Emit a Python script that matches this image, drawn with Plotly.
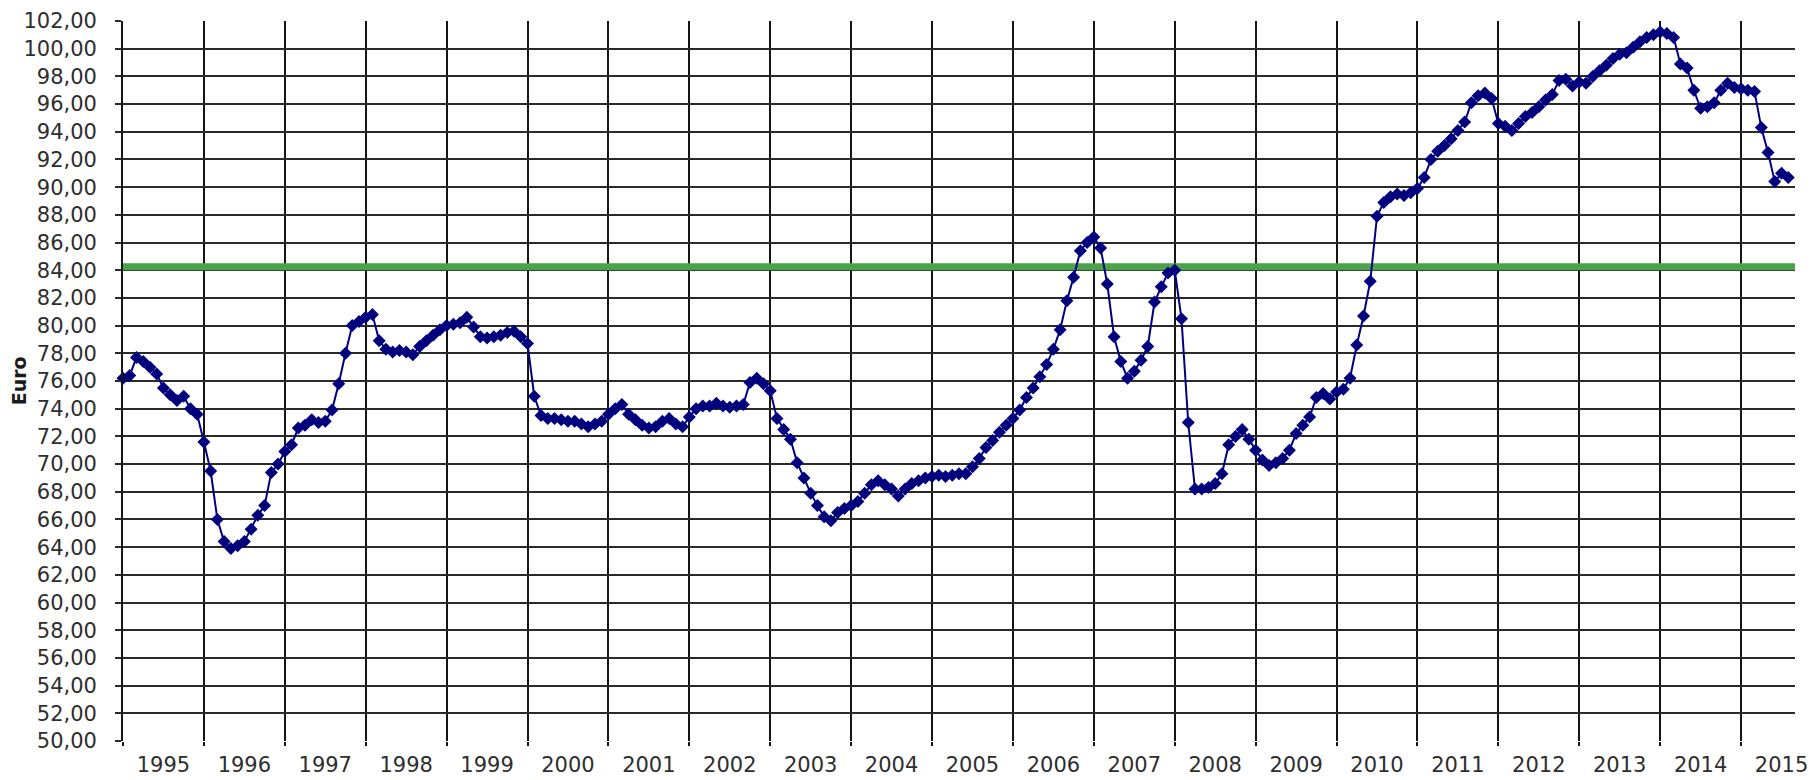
import plotly.graph_objects as go

# ---- data (monthly values) ----
years = list(range(1995, 2016))
year_labels = [str(y) for y in years]
y_ticks = list(range(50, 103, 2))
threshold = 84.25

v1995 = [76.2, 76.4, 77.7, 77.4, 77.0, 76.5, 75.5, 75.0, 74.6, 74.9, 74.0, 73.6]
v1996 = [71.6, 69.5, 66.0, 64.4, 63.9, 64.1, 64.4, 65.3, 66.3, 67.0, 69.4, 70.0]
v1997 = [70.9, 71.4, 72.6, 72.8, 73.2, 73.0, 73.1, 73.9, 75.8, 78.0, 80.0, 80.3]
v1998 = [80.6, 80.8, 78.9, 78.3, 78.1, 78.2, 78.1, 77.9, 78.5, 78.9, 79.3, 79.7]
v1999 = [80.0, 80.1, 80.2, 80.6, 79.9, 79.2, 79.1, 79.2, 79.3, 79.5, 79.6, 79.2]
v2000 = [78.7, 74.9, 73.5, 73.3, 73.3, 73.2, 73.1, 73.1, 72.9, 72.7, 72.9, 73.1]
v2001 = [73.6, 74.0, 74.3, 73.6, 73.2, 72.8, 72.6, 72.7, 73.1, 73.3, 72.9, 72.7]
v2002 = [73.4, 74.0, 74.2, 74.2, 74.4, 74.2, 74.1, 74.2, 74.3, 75.9, 76.2, 75.8]
v2003 = [75.3, 73.3, 72.5, 71.8, 70.1, 69.0, 67.9, 67.0, 66.2, 65.9, 66.5, 66.8]
v2004 = [67.0, 67.3, 67.9, 68.5, 68.8, 68.5, 68.2, 67.7, 68.2, 68.6, 68.8, 69.0]
v2005 = [69.1, 69.2, 69.1, 69.2, 69.3, 69.3, 69.8, 70.4, 71.2, 71.7, 72.3, 72.8]
v2006 = [73.3, 73.9, 74.8, 75.5, 76.3, 77.2, 78.3, 79.7, 81.8, 83.5, 85.4, 86.0]
v2007 = [86.4, 85.6, 83.0, 79.2, 77.4, 76.2, 76.7, 77.5, 78.5, 81.7, 82.8, 83.8]
v2008 = [84.0, 80.5, 73.0, 68.2, 68.2, 68.3, 68.6, 69.3, 71.4, 72.0, 72.5, 71.8]
v2009 = [71.0, 70.3, 69.9, 70.1, 70.4, 71.0, 72.2, 72.8, 73.4, 74.8, 75.1, 74.7]
v2010 = [75.2, 75.4, 76.2, 78.6, 80.7, 83.2, 87.9, 88.9, 89.3, 89.5, 89.4, 89.6]
v2011 = [89.9, 90.7, 92.0, 92.6, 93.0, 93.5, 94.1, 94.7, 96.1, 96.6, 96.8, 96.4]
v2012 = [94.6, 94.4, 94.1, 94.6, 95.1, 95.4, 95.8, 96.3, 96.7, 97.7, 97.8, 97.3]
v2013 = [97.6, 97.5, 98.0, 98.4, 98.8, 99.3, 99.6, 99.7, 100.1, 100.5, 100.8, 101.0]
v2014 = [101.2, 101.1, 100.8, 98.9, 98.6, 97.0, 95.7, 95.8, 96.1, 97.0, 97.5, 97.2]
v2015 = [97.1, 97.0, 96.9, 94.3, 92.5, 90.4, 91.0, 90.7]

values = (v1995 + v1996 + v1997 + v1998 + v1999 + v2000 + v2001 + v2002 + v2003
          + v2004 + v2005 + v2006 + v2007 + v2008 + v2009 + v2010 + v2011 + v2012
          + v2013 + v2014 + v2015)
x_months = [1995 + i / 12 for i in range(len(values))]
x_end = 2015 + 8 / 12

fig = go.Figure()

fig.add_trace(go.Scatter(
    x=[1995, x_end], y=[threshold, threshold], mode="lines",
    line=dict(color="#4aa34a", width=7), hoverinfo="skip", showlegend=False))

fig.add_trace(go.Scatter(
    x=x_months, y=values, mode="lines+markers",
    line=dict(color="#00007f", width=2),
    marker=dict(symbol="diamond", size=10, color="#00007f"),
    cliponaxis=False, showlegend=False))

tick_font = dict(family="DejaVu Sans", size=21, color="#2e2e2e")

fig.update_layout(
    width=1816, height=780,
    margin=dict(l=123, r=21, t=21, b=39),
    paper_bgcolor="white", plot_bgcolor="white",
    separators=",.",
    showlegend=False,
    xaxis=dict(
        range=[1995, x_end], automargin=False,
        tickmode="array",
        tickvals=[y + 0.5 for y in years],
        ticktext=year_labels,
        ticks="", showgrid=False, zeroline=False, showline=False,
        tickfont=tick_font, ticklabelstandoff=9,
        minor=dict(tickmode="array", tickvals=years, showgrid=True,
                   gridcolor="#151515", gridwidth=1.8,
                   ticks="outside", ticklen=4, tickcolor="#151515", tickwidth=1.8),
    ),
    yaxis=dict(
        range=[50, 102], automargin=False,
        tickmode="array", tickvals=y_ticks, tickformat=".2f",
        showgrid=True, gridcolor="#2a2a2a", gridwidth=2.4,
        ticks="outside", ticklen=6, tickcolor="#2a2a2a", tickwidth=2,
        zeroline=False, showline=True, linecolor="#151515", linewidth=1.8,
        tickfont=tick_font, ticklabelstandoff=14,
    ),
    annotations=[dict(
        text="<b>Euro</b>", textangle=-90, xref="paper", yref="paper",
        x=-0.062, y=0.5, xanchor="center", yanchor="middle", showarrow=False,
        font=dict(family="DejaVu Sans", size=19, color="#1a1a1a"))],
)

fig.write_html("out.html", config={"displayModeBar": False},
               post_script="document.body.style.margin='0';document.body.style.overflow='hidden';")
